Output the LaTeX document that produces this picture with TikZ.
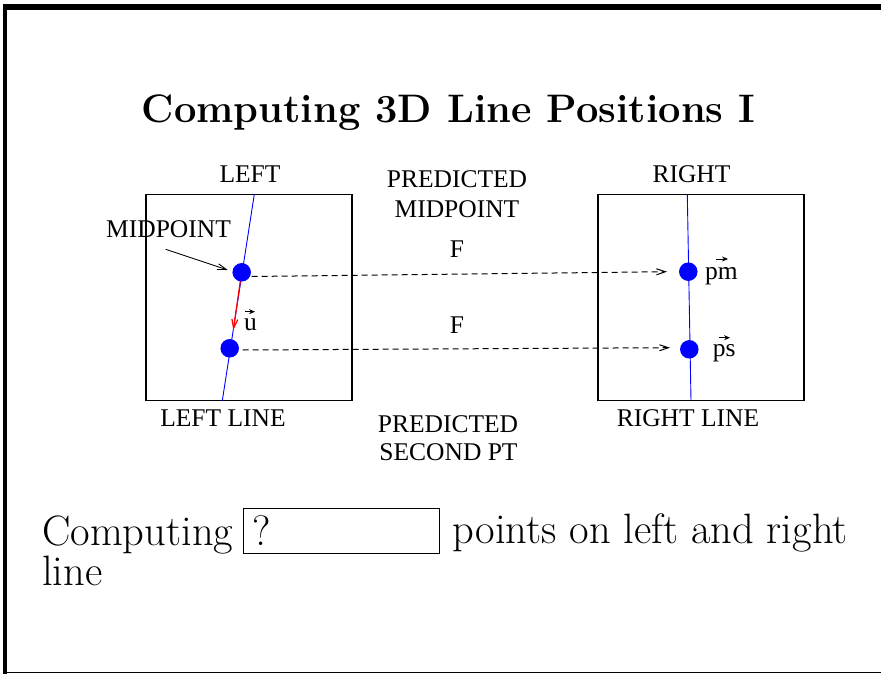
\documentclass[tikz,border=0pt]{standalone}
\usepackage{fontspec}
\newfontfamily\figfont{Liberation Serif}
\usetikzlibrary{arrows.meta,calc}
\begin{document}
\begin{tikzpicture}[x=1pt,y=-1pt,
 figlabel/.style={font=\figfont\fontsize{25.5}{28}\selectfont, inner sep=0pt, anchor=base},
 bigtext/.style={font=\fontsize{42.5}{44}\selectfont, inner sep=0pt, anchor=base west},
 panel/.style={draw, line width=1.2pt, minimum width=206pt, minimum height=206.5pt, inner sep=0pt},
 dot/.style={circle, fill=blue, minimum size=18.5pt, inner sep=0pt},
 bluelin/.style={blue, line width=0.9pt},
 barb/.style={-{Straight Barb[length=9pt,width=6pt]}},
 vecarrow/.style={line width=0.7pt, -{Stealth[length=6pt,width=5pt]}},
 dashedarrow/.style={barb, dash pattern=on 6pt off 4pt, line width=1pt},
]
\useasboundingbox (0,0) rectangle (881,674);
% frame
\fill (3,4) rectangle (881,10);
\fill (3.3,4) rectangle (6.7,674);
\draw[line width=1.2pt] (3.3,672.2) -- (881,672.2);

% title
\node[anchor=base, font=\bfseries\fontsize{39.8}{44}\selectfont, inner sep=0pt] (title) at (448.4,122.7) {Computing 3D Line Positions I};

% panels
\node[panel] (lbox) at (249,297.5) {};
\node[panel] (rbox) at (701,297.5) {};

% blue lines
\coordinate (lt) at (254.3,194.3);
\coordinate (lb) at (222.3,400.7);
\coordinate (rt) at (687.3,194.3);
\coordinate (rb) at (691,400.7);
\draw[bluelin] (lt) -- (lb);
\draw[bluelin] (rt) -- (rb);

% red vector
\coordinate (ustart) at (241.2,275);
\coordinate (uend) at (233.3,330);
\draw[red, line width=1.2pt, barb] (ustart) -- (uend);

% dots
\node[dot] (lm) at (241.7,272.3) {};
\node[dot] (ls) at (229.7,348.3) {};
\node[dot] (pm) at (688.3,271.7) {};
\node[dot] (ps) at (689.3,349.3) {};

% dashed arrows
\coordinate (d1s) at (251.7,276.5);
\coordinate (d1e) at (667,271.7);
\coordinate (d2s) at (242.7,350);
\coordinate (d2e) at (670,347.7);
\draw[dashedarrow] (d1s) -- (d1e);
\draw[dashedarrow] (d2s) -- (d2e);

% midpoint pointer
\coordinate (mps) at (165.7,249.3);
\coordinate (mpe) at (227.7,270);
\draw[line width=0.9pt, barb] (mps) -- (mpe);

% labels
\node[figlabel] (leftlab) at (250,182.7) {LEFT};
\node[figlabel] (rightlab) at (691.5,182.7) {RIGHT};
\node[figlabel] (pred1) at (457,187) {PREDICTED};
\node[figlabel] (pred1b) at (457,217) {MIDPOINT};
\node[figlabel] (f1) at (457,257) {F};
\node[figlabel] (f2) at (457,333) {F};
\node[figlabel] (pred2) at (448,432) {PREDICTED};
\node[figlabel] (pred2b) at (448.5,460) {SECOND PT};
\node[figlabel] (leftline) at (223,426) {LEFT LINE};
\node[figlabel] (rightline) at (688,426) {RIGHT LINE};
\node[figlabel, anchor=base west] (midlab) at (106,237.3) {MIDPOINT};
\node[figlabel, anchor=base west] (ulab) at (244,330.7) {u};
\node[figlabel, anchor=base west] (pmlab) at (705,279) {pm};
\node[figlabel, anchor=base west] (pslab) at (712.7,356.7) {ps};
% vector accents
\draw[vecarrow] ($(ulab.base west)+(1,-19)$) -- ($(ulab.base west)+(11,-19)$);
\draw[vecarrow] ($(pmlab.base west)+(11,-20)$) -- ($(pmlab.base west)+(23,-20)$);
\draw[vecarrow] ($(pslab.base west)+(6.5,-19)$) -- ($(pslab.base west)+(17.3,-19)$);

% bottom text
\node[bigtext] (comp) at (42,545) {Computing};
\node[draw, line width=1pt, minimum width=196pt, minimum height=45pt, inner sep=0pt] (qbox) at (341,530.5) {};
\node[bigtext] (qmark) at (252,545) {?};
\node[bigtext] (pts) at (452.7,543.3) {points on left and right};
\node[bigtext] (linew) at (42,585) {line};
\end{tikzpicture}
\end{document}
